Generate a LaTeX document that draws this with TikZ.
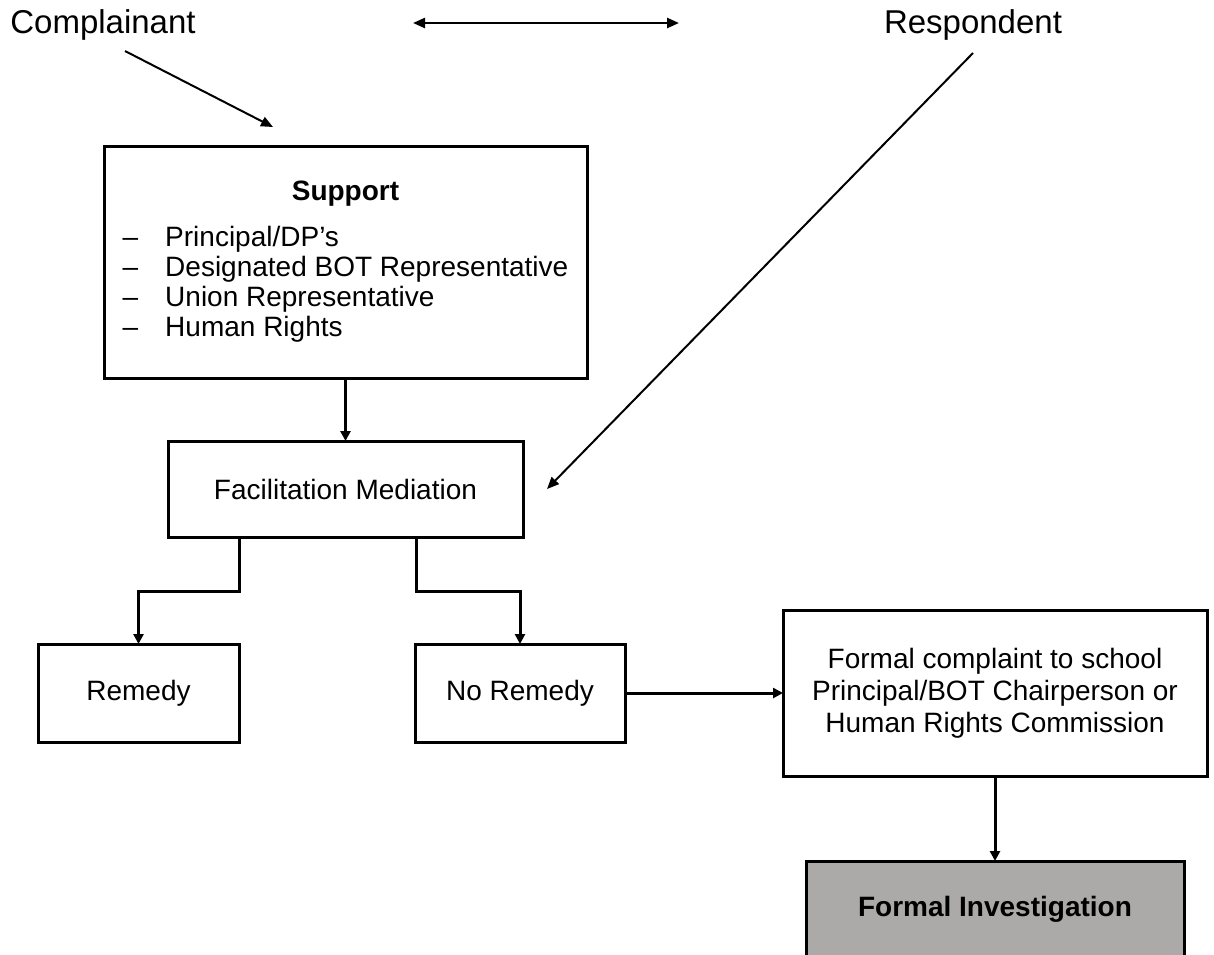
\documentclass[tikz,border=0pt]{standalone}
\usepackage{fontspec}
\setmainfont{Liberation Sans}
\usetikzlibrary{arrows.meta, positioning, calc}
\definecolor{invgrey}{RGB}{172,169,169}

\begin{document}
\begin{tikzpicture}[
  x=0.5pt, y=-0.5pt,
  box/.style={draw, line width=1.5pt, inner sep=0pt, outer sep=0pt, align=center, font=\fontsize{14}{16}\selectfont},
  lbl/.style={inner sep=0pt, font=\fontsize{16.5}{18}\selectfont},
  arr/.style={-{Triangle[length=5pt, width=5pt]}, line width=1.5pt},
  diag/.style={-{Triangle[length=6pt, width=5pt]}, line width=1pt}
]
\useasboundingbox (0,0) rectangle (1214,954);

% Parties
\node[lbl] (complainant) at (103,25) {Complainant};
\node[lbl] (respondent) at (973,25) {Respondent};
\coordinate (cstart) at (125,51);
\coordinate (ctip) at (273,127);
\coordinate (rstart) at (973,53);
\coordinate (bleft) at (413,23);
\coordinate (bright) at (679,23);

% Support and mediation
\node[box, minimum width=241.5pt, minimum height=116pt, font=\fontsize{14}{15}\selectfont] (support) at (345.5,262) {%
  \begin{tabular}{@{}l@{\hspace{13.5pt}}l@{}}
    \multicolumn{2}{c}{\textbf{Support}}\\[8pt]
    -- & Principal/DP’s\\
    -- & Designated BOT Representative\\
    -- & Union Representative\\
    -- & Human Rights
  \end{tabular}};
\node[box, minimum width=177.5pt, minimum height=48pt] (facil) [below=31.5pt of support] {Facilitation Mediation};
\coordinate (rtip) at ($(facil.east)+(12pt,0)$);

% Outcomes
\node[box, minimum width=105pt, minimum height=49pt] (noremedy) [below=53.5pt of facil.south east, xshift=-1.5pt] {No Remedy};
\node[box, minimum width=100.5pt, minimum height=49pt] (remedy) [left=88pt of noremedy] {Remedy};
\node[box, minimum width=212pt, minimum height=83pt] (formal) [right=79pt of noremedy] {Formal complaint to school\\Principal/BOT Chairperson or\\Human Rights Commission};
\node[box, minimum width=189pt, minimum height=48pt, fill=invgrey, font=\fontsize{14}{16}\selectfont\bfseries] (invest) [below=42.5pt of formal] {Formal Investigation};

% Arrows
\draw[diag] (cstart) -- (ctip);
\draw[diag, {Triangle[length=6pt, width=5pt]}-{Triangle[length=6pt, width=5pt]}, line width=1.2pt] (bleft) -- (bright);
\draw[diag] (rstart) -- (rtip);
\draw[arr] (support) -- (facil);
\draw[arr] ($(facil.south west)!0.2!(facil.south east)$) -- ++(0,-27pt) -| (remedy.north);
\draw[arr] ($(facil.south west)!0.7!(facil.south east)$) -- ++(0,-27pt) -| (noremedy.north);
\draw[arr] (noremedy) -- (formal);
\draw[arr] (formal) -- (invest);

\end{tikzpicture}
\end{document}
